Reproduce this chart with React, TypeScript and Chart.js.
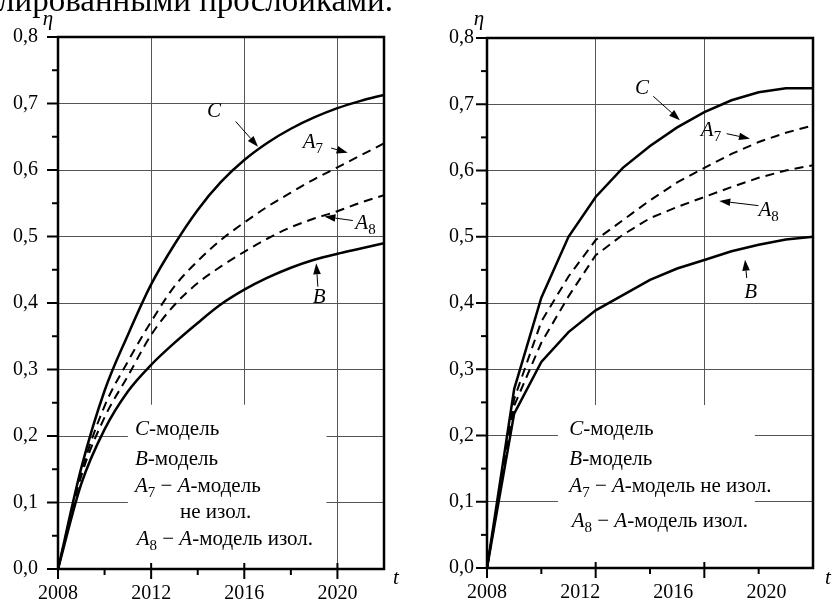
import React, { useEffect, useRef } from 'react';
import { Chart, registerables } from 'chart.js';
Chart.register(...registerables);

// ---------- data ----------
const YEARS_L = [2008, 2009, 2010, 2011, 2012, 2013, 2014, 2015, 2016, 2017, 2018, 2019, 2020, 2021, 2022];
const C_L = [0, 0.152, 0.268, 0.352, 0.428, 0.488, 0.54, 0.582, 0.615, 0.641, 0.662, 0.679, 0.693, 0.704, 0.713];
const A7_L = [0, 0.145, 0.245, 0.312, 0.372, 0.425, 0.463, 0.495, 0.521, 0.545, 0.566, 0.586, 0.604, 0.622, 0.64];
const A8_L = [0, 0.14, 0.228, 0.29, 0.352, 0.397, 0.43, 0.455, 0.477, 0.497, 0.514, 0.527, 0.538, 0.551, 0.562];
const B_L = [0, 0.128, 0.21, 0.267, 0.307, 0.34, 0.37, 0.398, 0.42, 0.438, 0.453, 0.465, 0.474, 0.482, 0.49];

const YEARS_R = [2008, 2009, 2010, 2011, 2012, 2013, 2014, 2015, 2016, 2017, 2018, 2019, 2020];
const C_R = [0, 0.27, 0.408, 0.5, 0.56, 0.604, 0.637, 0.665, 0.688, 0.706, 0.718, 0.724, 0.724];
const A7_R = [0, 0.255, 0.372, 0.44, 0.495, 0.525, 0.555, 0.582, 0.604, 0.625, 0.643, 0.657, 0.668];
const A8_R = [0, 0.245, 0.34, 0.41, 0.472, 0.503, 0.528, 0.545, 0.56, 0.575, 0.589, 0.6, 0.608];
const B_R = [0, 0.233, 0.311, 0.356, 0.389, 0.412, 0.435, 0.452, 0.465, 0.478, 0.488, 0.496, 0.5];

const Y_TICKS = [0, 0.05, 0.1, 0.15, 0.2, 0.25, 0.3, 0.35, 0.4, 0.45, 0.5, 0.55, 0.6, 0.65, 0.7, 0.75, 0.8];
const X_LABELS = [2008, 2012, 2016, 2020];
const X_MAJOR_L = [2008, 2012, 2016, 2020];
const X_MINOR_L = [2010, 2014, 2018];
const X_GRID_L = [2012, 2016, 2020];
const X_MAJOR_R = [2008, 2012, 2016];
const X_MINOR_R = [2010, 2014, 2018];
const X_GRID_R = [2012, 2016];

const CAPTION = 'лированными прослойками.';

type Seg = { t: string; i?: boolean; s?: boolean };
const SEG_C: Seg[] = [{ t: 'C', i: true }];
const SEG_B: Seg[] = [{ t: 'B', i: true }];
const SEG_A7: Seg[] = [{ t: 'A', i: true }, { t: '7', s: true }];
const SEG_A8: Seg[] = [{ t: 'A', i: true }, { t: '8', s: true }];

const LEG_C: Seg[] = [{ t: 'C', i: true }, { t: '-модель' }];
const LEG_B: Seg[] = [{ t: 'B', i: true }, { t: '-модель' }];
const LEG_A7a: Seg[] = [{ t: 'A', i: true }, { t: '7', s: true }, { t: ' − ' }, { t: 'A', i: true }, { t: '-модель' }];
const LEG_A7b: Seg[] = [{ t: 'не изол.' }];
const LEG_A7full: Seg[] = [{ t: 'A', i: true }, { t: '7', s: true }, { t: ' − ' }, { t: 'A', i: true }, { t: '-модель не изол.' }];
const LEG_A8: Seg[] = [{ t: 'A', i: true }, { t: '8', s: true }, { t: ' − ' }, { t: 'A', i: true }, { t: '-модель изол.' }];

// annotations: label (x,y) in data units, arrow from (x0,y0) to (x1,y1)
const NOTES_L = [
  { seg: SEG_C, lx: 2014.4, ly: 0.68, x0: 2015.63, y0: 0.673, x1: 2016.59, y1: 0.635 },
  { seg: SEG_A7, lx: 2018.51, ly: 0.633, x0: 2019.73, y0: 0.633, x1: 2020.44, y1: 0.626 },
  { seg: SEG_A8, lx: 2020.77, ly: 0.512, x0: 2020.66, y0: 0.524, x1: 2019.44, y1: 0.53 },
  { seg: SEG_B, lx: 2018.94, ly: 0.4005, x0: 2019.16, y0: 0.4245, x1: 2019.09, y1: 0.4597 },
];
const NOTES_R = [
  { seg: SEG_C, lx: 2013.45, ly: 0.716, x0: 2014.12, y0: 0.712, x1: 2015.1, y1: 0.676 },
  { seg: SEG_A7, lx: 2015.87, ly: 0.6525, x0: 2016.82, y0: 0.6556, x1: 2017.68, y1: 0.648 },
  { seg: SEG_A8, lx: 2017.99, ly: 0.532, x0: 2017.99, y0: 0.547, x1: 2016.55, y1: 0.554 },
  { seg: SEG_B, lx: 2017.47, ly: 0.4075, x0: 2017.56, y0: 0.4377, x1: 2017.5, y1: 0.4654 },
];

const FONT = '"Liberation Serif", "Times New Roman", serif';
const FS = 20;
const FS_TXT = 21;
const FS_SUB = 15;
const GRID = '#555';
const W = 416;
const H = 609;

interface PanelCfg {
  years: number[];
  C: number[]; A7: number[]; A8: number[]; B: number[];
  smooth: boolean;
  xMax: number; labelMax: number;
  major: number[]; minor: number[]; grid: number[];
  area: { left: number; top: number; right: number; bottom: number };
  yPad: number;
  box: { x0: number; x1: number; yTop: number };
  legend: { dx: number; dy: number; seg: Seg[] }[];
  notes: typeof NOTES_L;
  eta: { dx: number; dy: number };
  tt: { dx: number; dy: number };
}

const LEFT: PanelCfg = {
  years: YEARS_L, C: C_L, A7: A7_L, A8: A8_L, B: B_L, smooth: true,
  xMax: 2022, labelMax: 2022,
  major: X_MAJOR_L, minor: X_MINOR_L, grid: X_GRID_L,
  area: { left: 58, top: 37, right: 384, bottom: 569 },
  yPad: 20,
  box: { x0: 2011.0, x1: 2019.53, yTop: 0.247 },
  legend: [
    { dx: 77, dy: 398, seg: LEG_C },
    { dx: 77, dy: 428, seg: LEG_B },
    { dx: 77, dy: 454.7, seg: LEG_A7a },
    { dx: 122, dy: 481.3, seg: LEG_A7b },
    { dx: 78.7, dy: 508, seg: LEG_A8 },
  ],
  notes: NOTES_L,
  eta: { dx: -10, dy: -18 },
  tt: { dx: 12, dy: 9 },
};

const RIGHT: PanelCfg = {
  years: YEARS_R, C: C_R, A7: A7_R, A8: A8_R, B: B_R, smooth: false,
  xMax: 2020, labelMax: 2022,
  major: X_MAJOR_R, minor: X_MINOR_R, grid: X_GRID_R,
  area: { left: 71, top: 38, right: 397, bottom: 568 },
  yPad: 13,
  box: { x0: 2010.61, x1: 2017.86, yTop: 0.246 },
  legend: [
    { dx: 82.3, dy: 397, seg: LEG_C },
    { dx: 82.3, dy: 427, seg: LEG_B },
    { dx: 82.3, dy: 453.7, seg: LEG_A7full },
    { dx: 84.7, dy: 488.7, seg: LEG_A8 },
  ],
  notes: NOTES_R,
  eta: { dx: -8, dy: -19 },
  tt: { dx: 15, dy: 10 },
};

const isMajorY = (v: number) => Math.abs(v * 10 - Math.round(v * 10)) < 1e-6;
const fmtY = (v: number) => v.toFixed(1).replace('.', ',');

function drawRich(ctx: CanvasRenderingContext2D, x: number, y: number, segs: Seg[]) {
  let cx = x;
  ctx.textAlign = 'left';
  ctx.textBaseline = 'alphabetic';
  for (const s of segs) {
    const fs = s.s ? FS_SUB : FS_TXT;
    ctx.font = `${s.i ? 'italic ' : ''}${fs}px ${FONT}`;
    ctx.fillText(s.t, cx, y + (s.s ? 5 : 0));
    cx += ctx.measureText(s.t).width;
  }
}

function drawArrow(ctx: CanvasRenderingContext2D, x0: number, y0: number, x1: number, y1: number) {
  const ang = Math.atan2(y1 - y0, x1 - x0);
  const L = 11, Wd = 3.8;
  const bx = x1 - L * Math.cos(ang), by = y1 - L * Math.sin(ang);
  ctx.beginPath();
  ctx.moveTo(x0, y0);
  ctx.lineTo(bx, by);
  ctx.lineWidth = 1;
  ctx.stroke();
  ctx.beginPath();
  ctx.moveTo(x1, y1);
  ctx.lineTo(bx - Wd * Math.sin(ang), by + Wd * Math.cos(ang));
  ctx.lineTo(bx + Wd * Math.sin(ang), by - Wd * Math.cos(ang));
  ctx.closePath();
  ctx.fill();
}

function makeDeco(cfg: PanelCfg) {
  return {
    id: 'deco',
    beforeDatasetsDraw(chart: any) {
      const { ctx, chartArea: a, scales } = chart;
      const x = scales.x, y = scales.y;
      const px0 = x.getPixelForValue(cfg.box.x0);
      const px1 = x.getPixelForValue(cfg.box.x1);
      const py = y.getPixelForValue(cfg.box.yTop);
      ctx.save();
      ctx.fillStyle = '#fff';
      ctx.fillRect(px0, py, px1 - px0, a.bottom - py - 1);
      ctx.restore();
    },
    afterDatasetsDraw(chart: any) {
      const { ctx, chartArea: a, scales } = chart;
      const x = scales.x, y = scales.y;
      ctx.save();
      ctx.strokeStyle = '#000';
      ctx.fillStyle = '#000';
      // frame
      ctx.lineWidth = 2.5;
      ctx.strokeRect(a.left, a.top, a.right - a.left, a.bottom - a.top);
      // y ticks
      ctx.lineWidth = 2;
      for (const v of Y_TICKS) {
        const p = y.getPixelForValue(v);
        const len = isMajorY(v) ? 11 : 6;
        ctx.beginPath();
        ctx.moveTo(a.left - len, p);
        ctx.lineTo(a.left, p);
        ctx.stroke();
      }
      // x ticks
      for (const v of cfg.major) {
        const p = x.getPixelForValue(v);
        ctx.beginPath();
        ctx.moveTo(p, a.bottom - 6);
        ctx.lineTo(p, a.bottom + 10);
        ctx.stroke();
      }
      for (const v of cfg.minor) {
        const p = x.getPixelForValue(v);
        ctx.beginPath();
        ctx.moveTo(p, a.bottom);
        ctx.lineTo(p, a.bottom + 6);
        ctx.stroke();
      }
      // annotations
      for (const n of cfg.notes) {
        drawRich(ctx, x.getPixelForValue(n.lx), y.getPixelForValue(n.ly), n.seg);
        drawArrow(ctx, x.getPixelForValue(n.x0), y.getPixelForValue(n.y0), x.getPixelForValue(n.x1), y.getPixelForValue(n.y1));
      }
      // legend
      for (const l of cfg.legend) {
        drawRich(ctx, a.left + l.dx, a.top + l.dy, l.seg);
      }
      // axis titles
      ctx.font = `italic ${FS_TXT}px ${FONT}`;
      ctx.textAlign = 'center';
      ctx.textBaseline = 'middle';
      ctx.fillText('η', a.left + cfg.eta.dx, a.top + cfg.eta.dy);
      ctx.fillText('t', a.right + cfg.tt.dx, a.bottom + cfg.tt.dy);
      ctx.restore();
    },
  };
}

function Panel({ cfg, left }: { cfg: PanelCfg; left: number }) {
  const ref = useRef<HTMLCanvasElement>(null);
  useEffect(() => {
    if (!ref.current) return;
    const mk = (vals: number[]) => cfg.years.map((yr, i) => ({ x: yr, y: vals[i] }));
    const solid = { borderColor: '#000', borderWidth: 2.5, pointRadius: 0, fill: false };
    const dashed = { borderColor: '#000', borderWidth: 2, borderDash: [9, 6], pointRadius: 0, fill: false };
    const tension = cfg.smooth ? { cubicInterpolationMode: 'monotone' as const } : { tension: 0 };
    const font = { family: FONT, size: FS };
    const chart = new Chart(ref.current, {
      type: 'line',
      data: {
        datasets: [
          { label: 'C', data: mk(cfg.C), ...solid, ...tension },
          { label: 'A7', data: mk(cfg.A7), ...dashed, ...tension },
          { label: 'A8', data: mk(cfg.A8), ...dashed, ...tension },
          { label: 'B', data: mk(cfg.B), ...solid, ...tension },
        ] as any,
      },
      options: {
        animation: false,
        responsive: false,
        devicePixelRatio: 1,
        layout: { padding: { left: 0, top: cfg.area.top, right: W - cfg.area.right, bottom: 0 } },
        plugins: { legend: { display: false }, tooltip: { enabled: false } },
        elements: { point: { radius: 0 } },
        scales: {
          x: {
            type: 'linear', position: 'bottom', min: 2008, max: cfg.xMax,
            afterBuildTicks: (s: any) => { s.ticks = [...cfg.major, ...cfg.minor, cfg.xMax].sort((p, q) => p - q).map((v) => ({ value: v })); },
            afterFit: (s: any) => { s.height = 0; },
            ticks: { display: false },
            grid: {
              drawTicks: false, lineWidth: 1,
              color: (c: any) => (c.tick && cfg.grid.includes(c.tick.value) ? GRID : 'rgba(0,0,0,0)'),
            },
            border: { display: false },
          },
          xl: {
            type: 'linear', position: 'bottom', min: 2008, max: cfg.labelMax,
            afterBuildTicks: (s: any) => { s.ticks = X_LABELS.map((v) => ({ value: v })); },
            afterFit: (s: any) => { s.height = H - cfg.area.bottom; },
            ticks: { padding: 13, font, color: '#000', autoSkip: false, maxRotation: 0, callback: (v: any) => String(v) },
            grid: { display: false, drawTicks: false },
            border: { display: false },
          },
          y: {
            type: 'linear', position: 'left', min: 0, max: 0.8,
            afterBuildTicks: (s: any) => { s.ticks = Y_TICKS.map((v) => ({ value: v })); },
            afterFit: (s: any) => { s.width = cfg.area.left; },
            ticks: { padding: cfg.yPad, font, color: '#000', autoSkip: false, callback: (v: any) => (isMajorY(Number(v)) ? fmtY(Number(v)) : '') },
            grid: {
              drawTicks: false, lineWidth: 1,
              color: (c: any) => {
                const v = c.tick ? c.tick.value : 0;
                return v > 0.01 && v < 0.79 && isMajorY(v) ? GRID : 'rgba(0,0,0,0)';
              },
            },
            border: { display: false },
          },
        } as any,
      },
      plugins: [makeDeco(cfg)],
    });
    return () => chart.destroy();
  }, [cfg]);
  return (
    <canvas
      ref={ref}
      width={W}
      height={H}
      style={{ position: 'absolute', left, top: 0, width: W, height: H }}
    />
  );
}

export default function App() {
  return (
    <div style={{ position: 'fixed', left: 0, top: 0, width: 832, height: 609, background: '#fff', overflow: 'hidden' }}>
      <Panel cfg={LEFT} left={0} />
      <Panel cfg={RIGHT} left={416} />
      <div
        style={{
          position: 'absolute', left: -2, top: -15.6, fontFamily: FONT, fontSize: 33,
          lineHeight: '33px', whiteSpace: 'nowrap', color: '#000',
        }}
      >
        {CAPTION}
      </div>
    </div>
  );
}
